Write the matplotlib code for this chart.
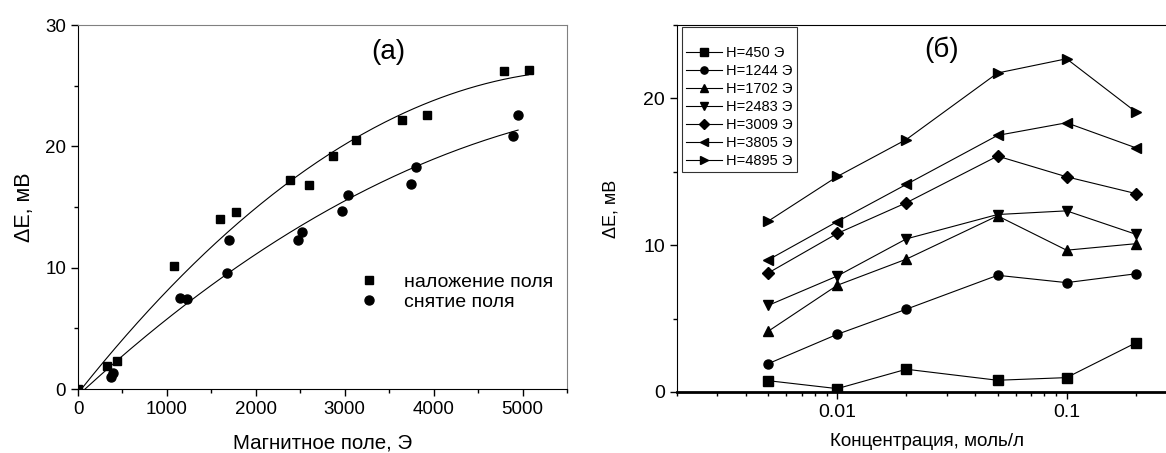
import numpy as np
import matplotlib
matplotlib.use("Agg")
import matplotlib.pyplot as plt
from matplotlib.ticker import MultipleLocator, LogLocator, NullFormatter, FixedLocator, FixedFormatter

plt.rcParams['font.family'] = ['Liberation Sans', 'DejaVu Sans']

# (a) данные: наложение / снятие поля
h_on = [0, 324, 437, 1080, 1597, 1777, 2382, 2601, 2870, 3126, 3643, 3920, 4786, 5067]
de_on = [0, 1.9, 2.3, 10.1, 14.0, 14.6, 17.2, 16.8, 19.2, 20.5, 22.2, 22.6, 26.2, 26.3]
h_off = [370, 395, 1151, 1227, 1676, 1702, 2479, 2521, 2971, 3034, 3748, 3807, 4891, 4950]
de_off = [1.0, 1.35, 7.5, 7.4, 9.6, 12.3, 12.3, 12.9, 14.7, 16.0, 16.9, 18.3, 20.85, 22.6]

# (б) данные: зависимость от концентрации
conc = [0.005, 0.01, 0.02, 0.05, 0.1, 0.2]
fields = ["450", "1244", "1702", "2483", "3009", "3805", "4895"]
de_conc = [
    [0.77, 0.23, 1.55, 0.80, 0.98, 3.34],
    [1.93, 3.93, 5.64, 7.95, 7.45, 8.05],
    [4.14, 7.27, 9.05, 12.0, 9.66, 10.1],
    [5.90, 7.90, 10.43, 12.09, 12.34, 10.75],
    [8.11, 10.8, 12.89, 16.07, 14.66, 13.52],
    [9.00, 11.61, 14.14, 17.48, 18.34, 16.64],
    [11.64, 14.68, 17.2, 21.73, 22.7, 19.09],
]
markers = ['s', 'o', '^', 'v', 'D', '<', '>']


def fit_curve(x, y):
    # квадратичная аппроксимация по точкам
    p = np.polyfit(x, y, 2)
    roots = np.roots(p)
    r = [v.real for v in roots if abs(v.imag) < 1e-9 and 0 <= v.real < 1000]
    x0 = r[0] if r else 0
    xs = np.linspace(x0, max(x), 200)
    return xs, np.polyval(p, xs)


fig = plt.figure(figsize=(11.66, 4.53), dpi=100)

# ---- (a)
ax1 = fig.add_axes([78 / 1166, 1 - 389 / 453, (567 - 78) / 1166, (389 - 25) / 453])
ax1.plot(h_on[1:], de_on[1:], 's', color='black', ms=6, label='наложение поля', zorder=3)
ax1.plot(h_off, de_off, 'o', color='black', ms=6.5, label='снятие поля', zorder=3)
ax1.plot([0], [0], 's', color='black', ms=6, zorder=3)
xs, ys = fit_curve(h_on[1:], de_on[1:])
ax1.plot(xs, ys, color='black', lw=0.8)
xs, ys = fit_curve(h_off, de_off)
ax1.plot(xs, ys, color='black', lw=0.8)
ax1.set_xlim(0, 5500)
ax1.set_ylim(0, 30)
ax1.xaxis.set_major_locator(MultipleLocator(1000))
ax1.xaxis.set_minor_locator(MultipleLocator(500))
ax1.yaxis.set_major_locator(MultipleLocator(10))
ax1.yaxis.set_minor_locator(MultipleLocator(5))
ax1.tick_params(which='major', direction='out', length=5, width=1, labelsize=13.5)
ax1.tick_params(which='minor', direction='out', length=3, width=1)
for s in ['top', 'right']:
    ax1.spines[s].set_color('#808080')
ax1.set_xlabel('Магнитное поле, Э', fontsize=14.8, labelpad=11)
ax1.set_ylabel('ΔE, мВ', fontsize=15.5, labelpad=7)
ax1.text(0.634, 0.925, '(a)', transform=ax1.transAxes, fontsize=20, ha='center', va='center')
ax1.legend(loc='center left', bbox_to_anchor=(0.54, 0.266), frameon=False, fontsize=14,
           handlelength=1.0, handletextpad=1.3, labelspacing=0.15)

# ---- (б)
ax2 = fig.add_axes([677 / 1166, 1 - 392 / 453, (1176 - 677) / 1166, (392 - 25) / 453])
for lab, vals, m in zip(fields, de_conc, markers):
    ax2.plot(conc, vals, '-', marker=m, color='black', lw=0.8, ms=6.5, label=f'H={lab} Э')
ax2.set_xscale('log')
ax2.set_xlim(0.002, 0.3)
ax2.set_ylim(0, 25)
ax2.xaxis.set_major_locator(FixedLocator([0.01, 0.1]))
ax2.xaxis.set_major_formatter(FixedFormatter(['0.01', '0.1']))
ax2.xaxis.set_minor_locator(LogLocator(base=10, subs=np.arange(2, 10)))
ax2.xaxis.set_minor_formatter(NullFormatter())
ax2.yaxis.set_major_locator(MultipleLocator(10))
ax2.yaxis.set_minor_locator(MultipleLocator(5))
ax2.tick_params(which='major', direction='out', length=5, width=1, labelsize=14)
ax2.tick_params(which='minor', direction='out', length=3, width=1)
ax2.spines['bottom'].set_linewidth(2)
ax2.spines['right'].set_visible(False)
ax2.set_xlabel('Концентрация, моль/л', fontsize=13.6, labelpad=9)
ax2.set_ylabel('ΔE, мВ', fontsize=13, labelpad=17)
ax2.text(0.53, 0.932, '(б)', transform=ax2.transAxes, fontsize=20, ha='center', va='center')
leg = ax2.legend(loc='upper left', bbox_to_anchor=(0.01, 0.995), borderaxespad=0, fontsize=10.5,
                 fancybox=False, edgecolor='black', handlelength=2.5, handletextpad=0.3,
                 labelspacing=0.27, borderpad=0.25, markerscale=0.8,
                 title=' ', title_fontsize=9)
leg.get_frame().set_linewidth(0.8)

fig.savefig('out.png', dpi=100)
